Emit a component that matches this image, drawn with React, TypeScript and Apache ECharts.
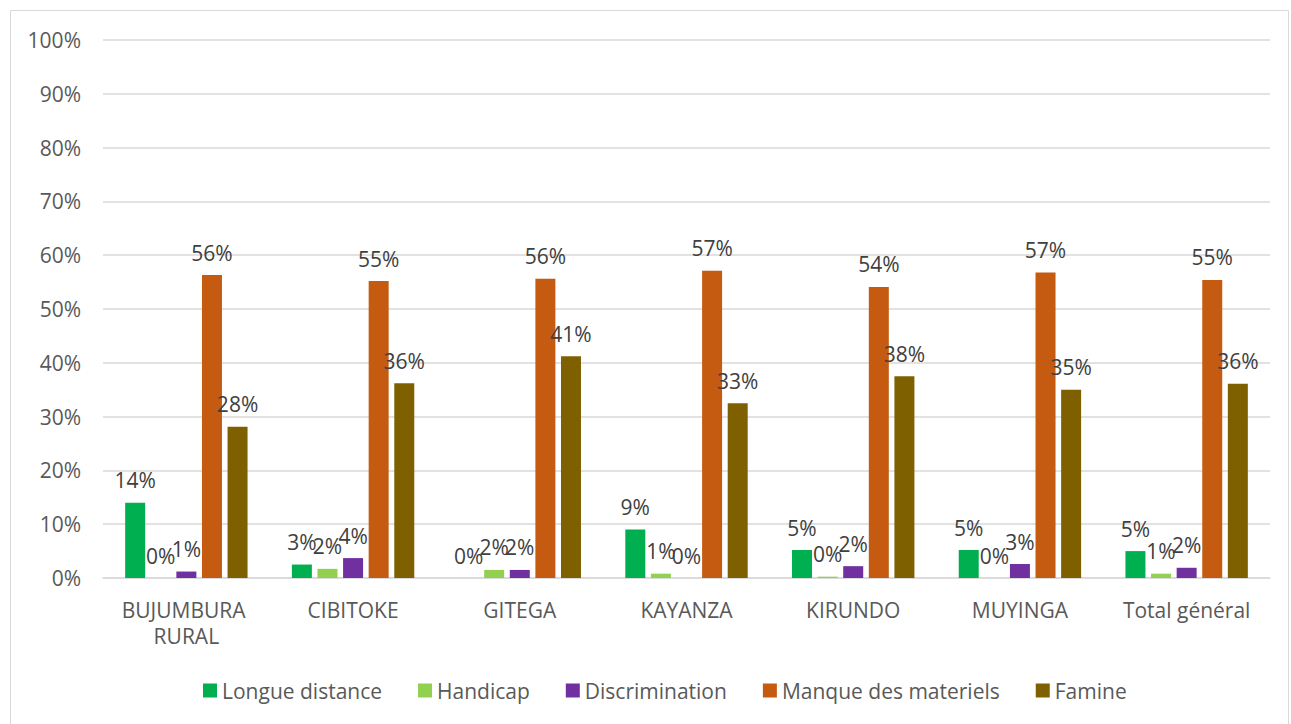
import React, { useEffect, useRef } from "react";
import * as echarts from "echarts";

const categories = [
  "BUJUMBURA RURAL",
  "CIBITOKE",
  "GITEGA",
  "KAYANZA",
  "KIRUNDO",
  "MUYINGA",
  "Total général",
];

const seriesNames = [
  "Longue distance",
  "Handicap",
  "Discrimination",
  "Manque des materiels",
  "Famine",
];

const longueDistance = [14.0, 2.5, 0, 9.0, 5.2, 5.2, 5.0];
const handicap = [0, 1.7, 1.5, 0.8, 0.25, 0, 0.8];
const discrimination = [1.2, 3.7, 1.5, 0, 2.2, 2.6, 1.9];
const manqueMateriels = [56.3, 55.2, 55.6, 57.1, 54.1, 56.8, 55.4];
const famine = [28.1, 36.2, 41.2, 32.5, 37.5, 35.0, 36.1];

const seriesValues = [longueDistance, handicap, discrimination, manqueMateriels, famine];
const seriesColors = ["#00B050", "#92D050", "#7030A0", "#C55A11", "#7F6000"];

const yTicks = { min: 0, max: 100, interval: 10 };

const FONT = "'Open Sans', sans-serif";

export default function App() {
  const ref = useRef<HTMLDivElement>(null);

  useEffect(() => {
    if (!ref.current) return;
    const chart = echarts.init(ref.current, null, { renderer: "svg" });
    chart.setOption({
      animation: false,
      backgroundColor: "#ffffff",
      textStyle: { fontFamily: FONT },
      graphic: [
        {
          type: "rect",
          shape: { x: 10.5, y: 10.5, width: 1278, height: 720 },
          style: { fill: "none", stroke: "#d9d9d9", lineWidth: 1 },
          silent: true,
        },
      ],
      grid: { left: 103, right: 21, top: 40, bottom: 146, containLabel: false },
      legend: {
        top: 675,
        left: 198,
        itemWidth: 14,
        itemHeight: 14,
        itemGap: 36,
        icon: "rect",
        textStyle: { fontFamily: FONT, fontSize: 21, color: "#595959" },
        data: seriesNames,
      },
      xAxis: {
        type: "category",
        data: categories,
        axisLine: { lineStyle: { color: "#d9d9d9", width: 1.5 } },
        axisTick: { show: false },
        axisLabel: {
          fontFamily: FONT,
          fontSize: 21,
          color: "#595959",
          margin: 19,
          lineHeight: 26,
          interval: 0,
          width: 150,
          overflow: "break",
        },
      },
      yAxis: {
        type: "value",
        min: yTicks.min,
        max: yTicks.max,
        interval: yTicks.interval,
        axisLine: { show: false },
        axisTick: { show: false },
        splitLine: { lineStyle: { color: "#d9d9d9", width: 1.5 } },
        axisLabel: {
          formatter: "{value}%",
          fontFamily: FONT,
          fontSize: 21,
          color: "#595959",
          margin: 22,
        },
      },
      series: seriesNames.map((name, i) => ({
        name,
        type: "bar",
        data: seriesValues[i],
        barWidth: 20,
        barGap: "28%",
        itemStyle: { color: seriesColors[i] },
        label: {
          show: true,
          position: "top",
          distance: 12,
          fontFamily: FONT,
          fontSize: 21,
          color: "#404040",
          formatter: (p: any) => Math.round(p.value) + "%",
        },
      })),
    });
    return () => chart.dispose();
  }, []);

  return (
    <div
      ref={ref}
      style={{ position: "fixed", left: 0, top: 0, width: 1291, height: 724 }}
    />
  );
}
